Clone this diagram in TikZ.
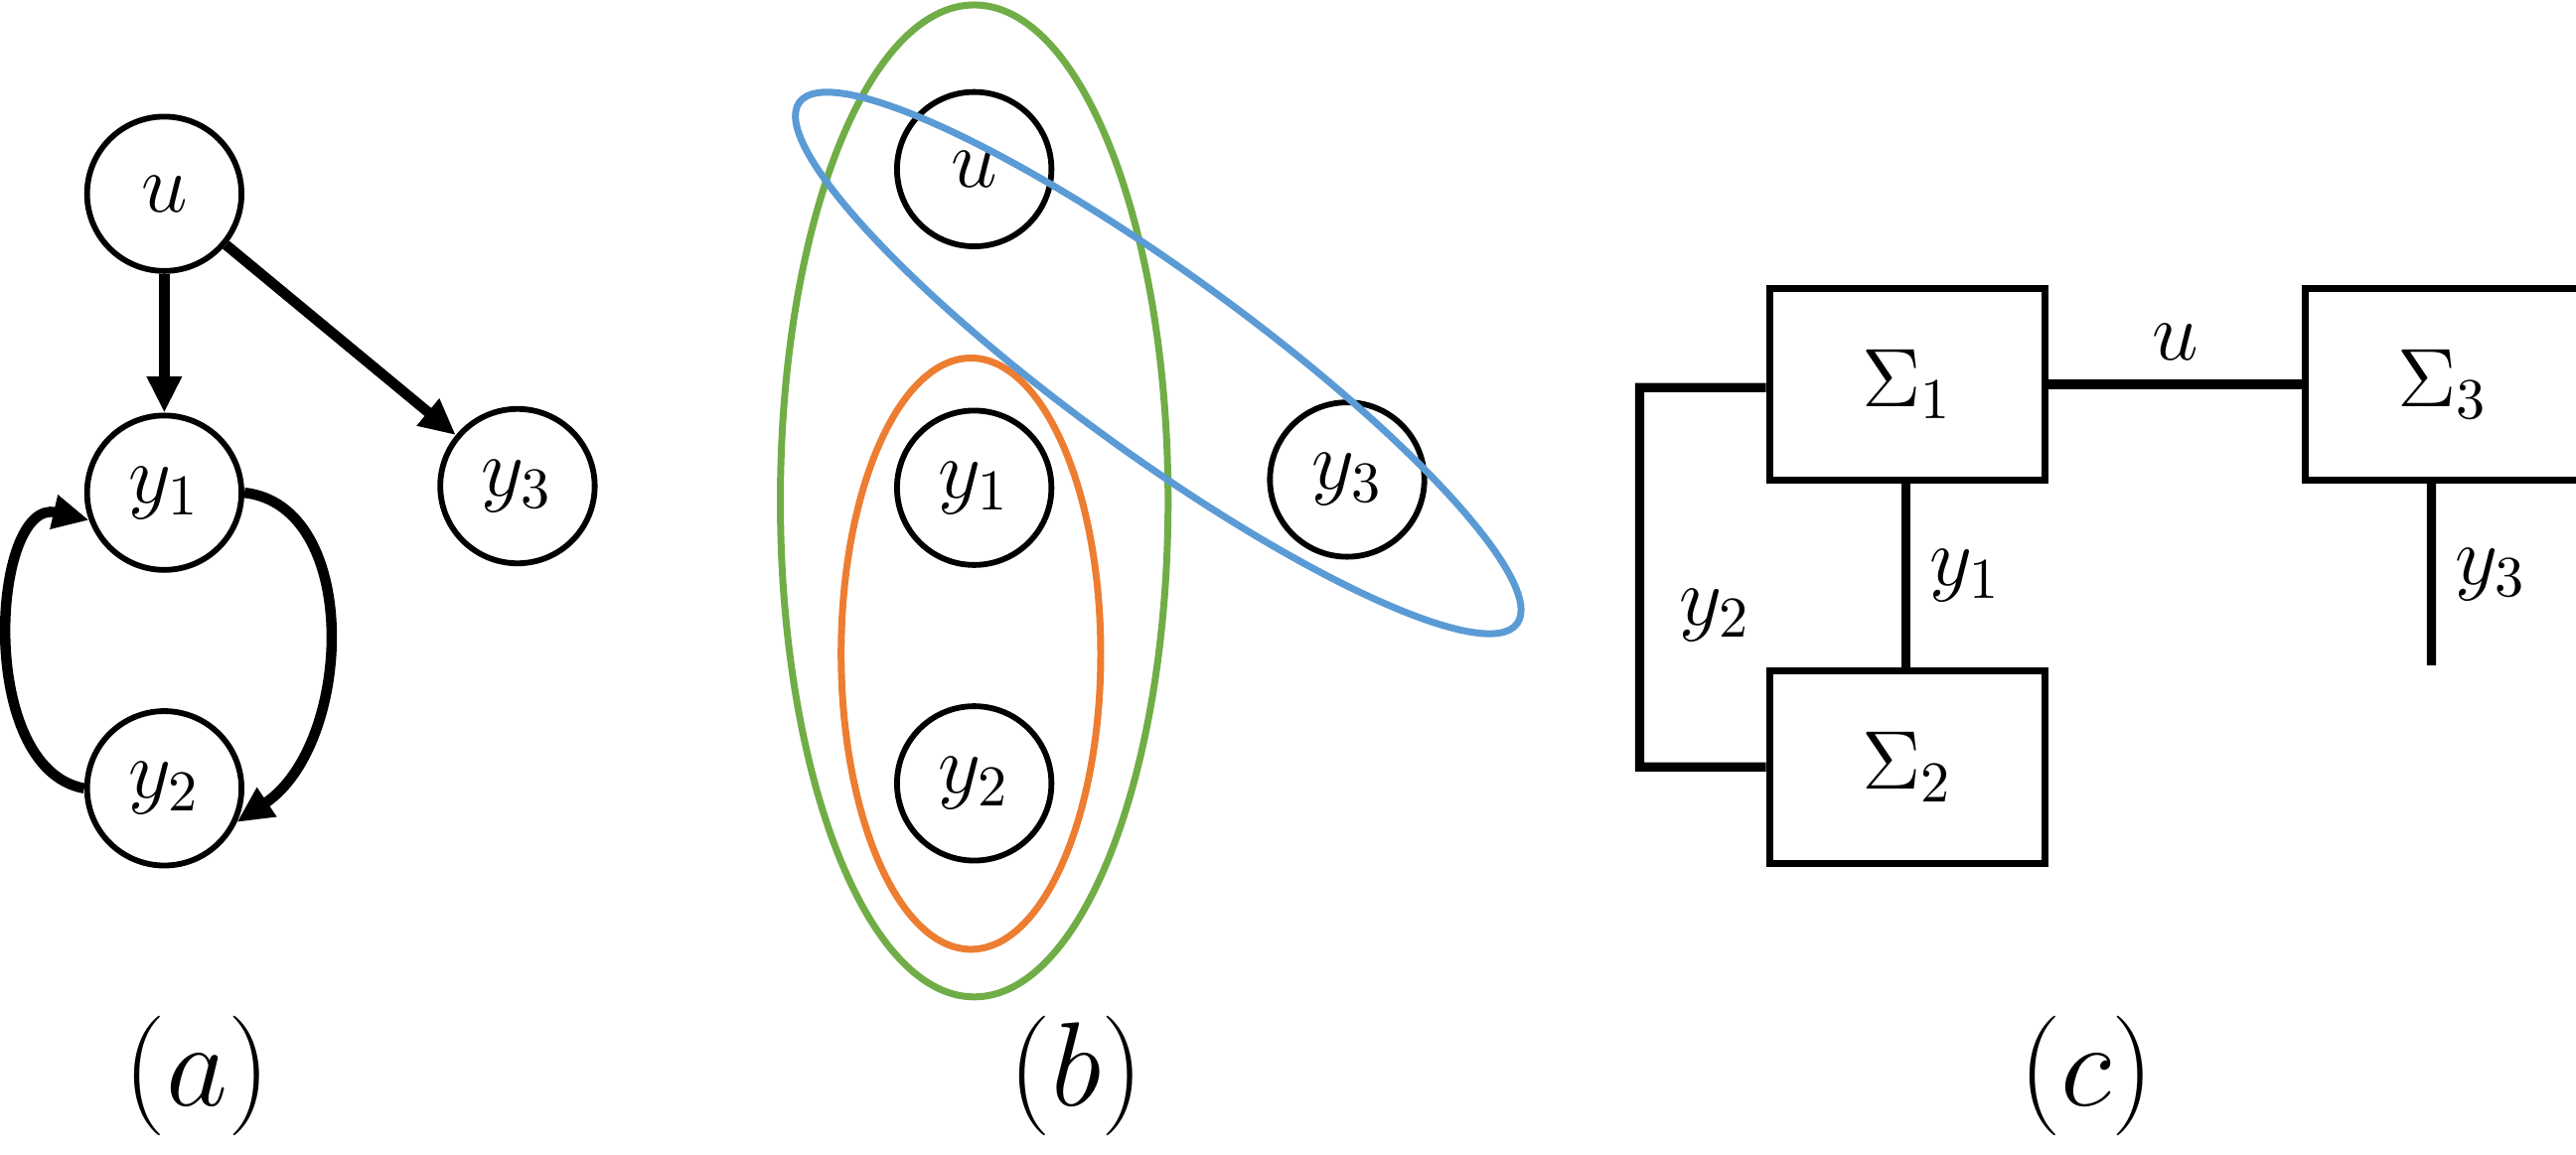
\documentclass[tikz,border=0pt]{standalone}
\usepackage{amsmath}
\usetikzlibrary{arrows.meta,positioning,calc}
\definecolor{egreen}{RGB}{112,173,71}
\definecolor{eorange}{RGB}{237,125,49}
\definecolor{eblue}{RGB}{91,155,213}
\begin{document}
\begin{tikzpicture}[
  >={Triangle[length=2.2mm,width=2mm]},
  big/.style={font=\Large},
  var/.style={circle,draw,line width=1pt,minimum size=9.4mm,inner sep=0pt,big},
  sys/.style={rectangle,draw,line width=1.2pt,minimum width=16.8mm,minimum height=11.7mm,big},
  wire/.style={line width=1.6pt},
  arr/.style={->,line width=1.8pt},
  set/.style={line width=1.2pt}
]
\useasboundingbox (0,4.60) rectangle (15.68,11.63);

% --- (a) dependency graph ---
\node[var] (ua)  at (1.00,10.45) {$u$};
\node[var] (y1a) at (1.00,8.63)  {$y_1$};
\node[var] (y3a) at (3.15,8.67)  {$y_3$};
\node[var] (y2a) at (1.00,6.83)  {$y_2$};
\draw[arr] (ua) -- (y1a);
\draw[arr] (ua) -- (y3a);
\draw[arr] (y1a.east) .. controls (2.20,8.55) and (2.15,7.10) .. (y2a.-25);
\draw[arr] (y2a.west) .. controls (-0.15,6.95) and (-0.05,8.60) .. (y1a.200);

% --- (b) hyperedges ---
\node[var] (ub)  at (5.93,10.60) {$u$};
\node[var] (y1b) at (5.93,8.66)  {$y_1$};
\node[var] (y3b) at (8.20,8.71)  {$y_3$};
\node[var] (y2b) at (5.93,6.86)  {$y_2$};
\draw[set,egreen]  (5.93,8.58) ellipse [x radius=1.18cm,y radius=3.02cm];
\draw[set,eorange] (5.91,7.65) ellipse [x radius=0.79cm,y radius=1.80cm];
\draw[set,eblue,rotate around={-36:(7.05,9.42)}] (7.05,9.42) ellipse [x radius=2.70cm,y radius=0.55cm];

% --- (c) block diagram ---
\node[sys] (s1) at (11.61,9.29) {$\Sigma_1$};
\node[sys] (s3) at (14.87,9.29) {$\Sigma_3$};
\node[sys] (s2) at (11.61,6.96) {$\Sigma_2$};
\coordinate (c1) at (9.98,9.27);
\coordinate (c2) at (9.98,6.96);
\coordinate (y3end) at (14.80,7.58);
\draw[wire] (s1.east) -- node[above,big] {$u$} (s3.west);
\draw[wire] ($(s1.south)+(-0.01,0)$) -- node[right,big] {$y_1$} ($(s2.north)+(-0.01,0)$);
\draw[wire] ($(s1.west)+(0,-0.02)$) -- (c1) -- node[pos=0.6,right=1mm,big] {$y_2$} (c2) -- (s2.west);
\draw[wire] ($(s3.south)+(-0.07,0)$) -- node[right,big] {$y_3$} (y3end);

% --- captions ---
\node[font=\huge] (la) at (1.20,5.08) {$(a)$};
\node[font=\huge] (lb) at (6.55,5.08) {$(b)$};
\node[font=\huge] (lc) at (12.70,5.08) {$(c)$};
\end{tikzpicture}
\end{document}
